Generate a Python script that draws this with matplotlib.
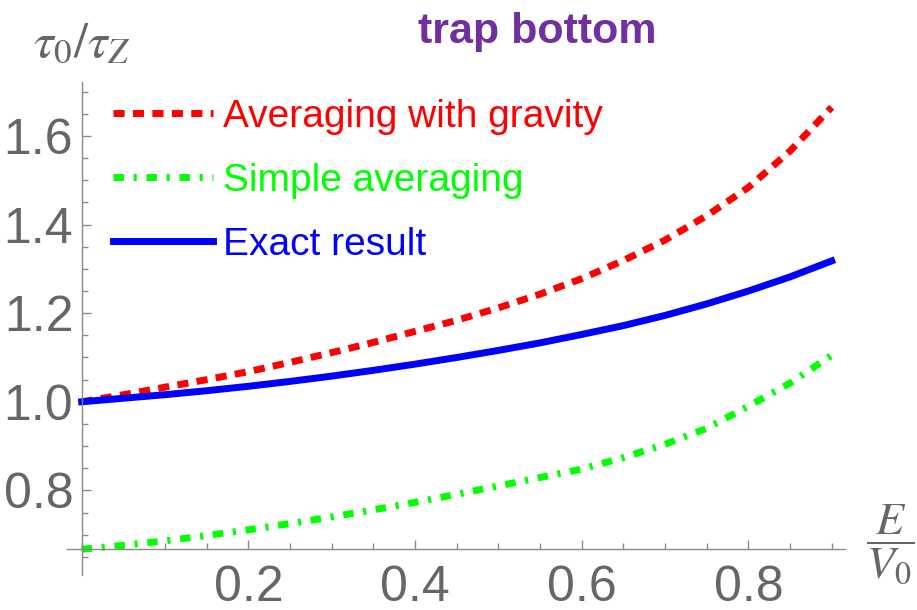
import matplotlib
matplotlib.use("Agg")
import matplotlib.pyplot as plt
from matplotlib.ticker import MultipleLocator, FixedLocator

# values (x = E/V0)
energy = [0.0, 0.05, 0.1, 0.15, 0.2, 0.25, 0.3, 0.35, 0.4, 0.45,
          0.5, 0.55, 0.6, 0.65, 0.7, 0.75, 0.8, 0.85, 0.9]
avg_gravity = [1.000, 1.016, 1.033, 1.050, 1.068, 1.089, 1.111, 1.134, 1.159, 1.184,
               1.212, 1.243, 1.278, 1.319, 1.365, 1.420, 1.484, 1.566, 1.665]
simple_avg = [0.667, 0.676, 0.686, 0.698, 0.711, 0.725, 0.740, 0.756, 0.773, 0.791,
              0.810, 0.829, 0.848, 0.874, 0.904, 0.940, 0.990, 1.042, 1.105]
exact = [1.000, 1.008, 1.016, 1.025, 1.035, 1.046, 1.058, 1.071, 1.085, 1.100,
         1.116, 1.133, 1.152, 1.172, 1.195, 1.221, 1.250, 1.282, 1.318]

labels = ["Averaging with gravity", "Simple averaging", "Exact result"]
xticks = [0.2, 0.4, 0.6, 0.8]
yticks = [0.8, 1.0, 1.2, 1.4, 1.6]

gray = "#8a8a8a"
label_gray = "#666666"

fig = plt.figure(figsize=(9.17, 6.10), dpi=100)
ax = fig.add_axes([0.0727, 0.0574, 0.8488, 0.8082])

ax.plot(energy, avg_gravity, color="#ff0000", lw=5, dashes=(1.6, 1.2), label=labels[0])
ax.plot(energy, simple_avg, color="#00ff00", lw=5, dashes=(1.5, 1.4, 0.45, 1.4), label=labels[1])
ax.plot(energy, exact, color="#0000ff", lw=5, label=labels[2])

ax.set_xlim(-0.018, 0.916)
ax.set_ylim(0.609, 1.722)

# axes cross at (0, first value of simple averaging), Mathematica style
ax.spines["top"].set_visible(False)
ax.spines["right"].set_visible(False)
ax.spines["left"].set_position(("data", 0))
ax.spines["bottom"].set_position(("data", simple_avg[0]))
for s in ("left", "bottom"):
    ax.spines[s].set_color(gray)
    ax.spines[s].set_linewidth(1.0)

ax.xaxis.set_major_locator(FixedLocator(xticks))
ax.yaxis.set_major_locator(FixedLocator(yticks))
ax.xaxis.set_minor_locator(MultipleLocator(0.05))
ax.yaxis.set_minor_locator(MultipleLocator(0.05))
ax.set_xticklabels([f"{v:.1f}" for v in xticks])
ax.set_yticklabels([f"{v:.1f}" for v in yticks])

ax.tick_params(which="both", direction="in", color=gray, width=1.0)
ax.tick_params(which="major", length=6.5)
ax.tick_params(which="minor", length=4)
ax.tick_params(axis="x", which="major", pad=11, labelsize=36, labelcolor=label_gray)
ax.tick_params(axis="y", which="major", pad=6, labelsize=36, labelcolor=label_gray)
for lab in ax.get_xticklabels() + ax.get_yticklabels():
    lab.set_family("Liberation Sans")

leg = ax.legend(loc="upper left", bbox_to_anchor=(0.123, 0.838), bbox_transform=fig.transFigure,
                frameon=False, handlelength=2.57, handletextpad=0.26, labelspacing=0.72,
                borderpad=0, borderaxespad=0,
                prop={"family": "Liberation Sans", "size": 28})
for txt, line in zip(leg.get_texts(), leg.get_lines()):
    txt.set_color(line.get_color())

fig.text(82 / 917, 1 - 42 / 610, r"$\tau_0/\tau_Z$", ha="center", va="center",
         fontsize=36, color=label_gray, math_fontfamily="stix")
fig.text(866 / 917, 1 - 544 / 610, r"$\dfrac{E}{V_0}$", ha="left", va="center",
         fontsize=33, color=label_gray, math_fontfamily="stix")
fig.text(537 / 917, 1 - 32 / 610, "trap bottom", ha="center", va="center",
         fontsize=31, fontweight="bold", color="#7030a0", family="Liberation Sans")

fig.savefig("out.png", dpi=100)
